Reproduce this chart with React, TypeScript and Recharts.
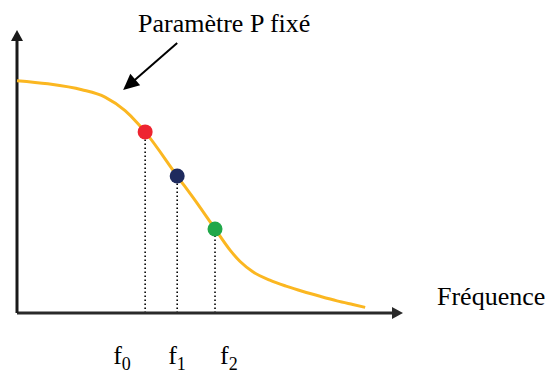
import React from 'react';
import { ComposedChart, Line, XAxis, YAxis, ReferenceLine } from 'recharts';

// response curve at fixed P (frequency, level)
const curveFreq = [0, 8, 16.8, 22.8, 28, 31.3, 46.6, 55.2, 57.8, 61.1, 65.5, 69.9, 74.1, 78.5, 82.9, 87, 90.2];
const curveLevel = [82.1, 81.0, 78.9, 76.3, 71.5, 67.0, 38.9, 22.2, 18.2, 14.6, 11.6, 9.4, 7.6, 5.9, 4.3, 3.0, 2.0];

// marked frequencies on the curve
const markerNames = ['0', '1', '2'];
const markerFreq = [33.2, 41.5, 51.3];
const markerLevel = [64.0, 48.4, 29.7];
const markerColors = ['#ee2430', '#1e2a5e', '#21a84a'];

// where each f label sits relative to its frequency
const labelShift = [-32, -9, 5];

const data = [
  ...curveFreq.map((f, i) => ({ f, v: curveLevel[i], color: null as string | null })),
  ...markerFreq.map((f, i) => ({ f, v: markerLevel[i], color: markerColors[i] })),
].sort((a, b) => a.f - b.f);

const SERIF = '"Liberation Serif", "Times New Roman", serif';

const arrowShape = (color: string, width: number, headLen: number, headHalf: number) => (p: any) => {
  const { x1, y1, x2, y2 } = p;
  const len = Math.hypot(x2 - x1, y2 - y1) || 1;
  const ux = (x2 - x1) / len;
  const uy = (y2 - y1) / len;
  const bx = x2 - ux * headLen;
  const by = y2 - uy * headLen;
  const pts = `${x2},${y2} ${bx - uy * headHalf},${by + ux * headHalf} ${bx + uy * headHalf},${by - ux * headHalf}`;
  return (
    <g>
      <line x1={x1} y1={y1} x2={bx + ux} y2={by + uy} stroke={color} strokeWidth={width} />
      <polygon points={pts} fill={color} />
    </g>
  );
};

const renderDot = (p: any) => {
  const { cx, cy, payload, index } = p;
  if (!payload.color) return <g key={`d${index}`} />;
  return <circle key={`d${index}`} cx={cx} cy={cy} r={7.5} fill={payload.color} />;
};

const FTick = (p: any) => {
  const { x, y, index } = p;
  return (
    <text x={x + labelShift[index]} y={y + 51} fontFamily={SERIF} fontSize={26} fill="#000">
      <tspan>f</tspan>
      <tspan dy={6} fontSize={18}>{markerNames[index]}</tspan>
    </text>
  );
};

export default function App() {
  return (
    <div style={{ position: 'absolute', left: 0, top: 0, width: 547, height: 374, background: '#fff' }}>
      <ComposedChart width={547} height={374} data={data} margin={{ top: 30, right: 144, bottom: 11, left: 17 }}>
        <XAxis
          dataKey="f"
          type="number"
          domain={[0, 100]}
          ticks={markerFreq}
          axisLine={false}
          tickLine={false}
          tickSize={0}
          tickMargin={0}
          height={50}
          interval={0}
          tick={<FTick />}
        />
        <YAxis type="number" domain={[0, 100]} hide width={0} />
        {markerFreq.map((f, i) => (
          <ReferenceLine
            key={`drop${i}`}
            segment={[{ x: f, y: 0 }, { x: f, y: markerLevel[i] }]}
            stroke="#000"
            strokeWidth={1.6}
            strokeDasharray="1.6 2.4"
            ifOverflow="visible"
          />
        ))}
        <ReferenceLine
          segment={[{ x: 0, y: 0 }, { x: 100, y: 0 }]}
          ifOverflow="visible"
          shape={arrowShape('#2a2a2a', 3, 11, 6)}
        />
        <ReferenceLine
          segment={[{ x: 0, y: 0 }, { x: 0, y: 100 }]}
          ifOverflow="visible"
          shape={arrowShape('#1a1a1a', 3, 11, 6)}
        />
        <ReferenceLine
          segment={[{ x: 41.5, y: 95.4 }, { x: 27.5, y: 78.8 }]}
          ifOverflow="visible"
          shape={arrowShape('#000', 2, 16, 7.5)}
        />
        <Line
          type="monotone"
          dataKey="v"
          stroke="#fbb721"
          strokeWidth={3}
          dot={renderDot}
          activeDot={false}
          isAnimationActive={false}
        />
      </ComposedChart>
      <svg width={547} height={374} style={{ position: 'absolute', left: 0, top: 0, pointerEvents: 'none' }}>
        <text x={138} y={32} fontFamily={SERIF} fontSize={26} fill="#000">Paramètre P fixé</text>
        <text x={437} y={305} fontFamily={SERIF} fontSize={26} fill="#000">Fréquence</text>
      </svg>
    </div>
  );
}
